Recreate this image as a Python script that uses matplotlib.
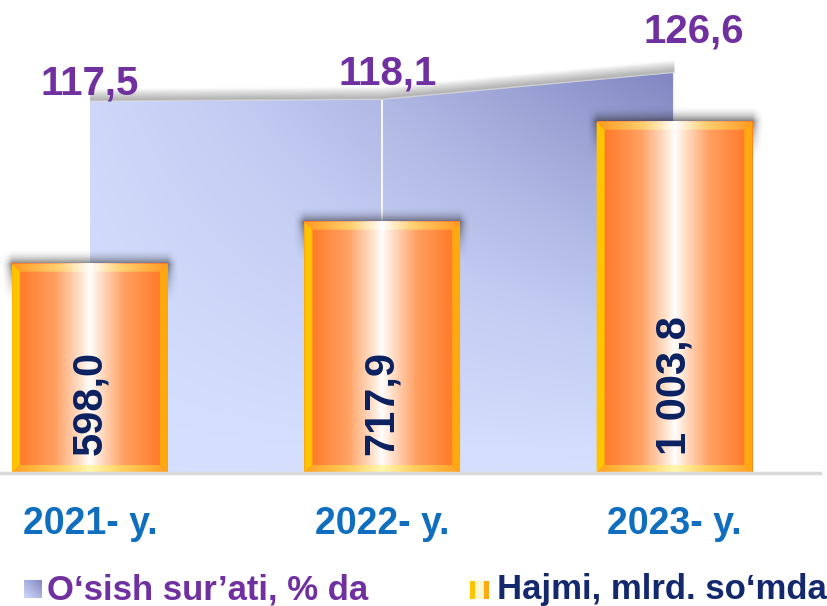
import numpy as np
import matplotlib
matplotlib.use("Agg")
import matplotlib.pyplot as plt
from matplotlib.colors import LinearSegmentedColormap
from matplotlib.patches import Polygon, Rectangle
from matplotlib.transforms import offset_copy

plt.rcParams["font.family"] = ["Liberation Sans", "DejaVu Sans"]

# data
years = ["2021- y.", "2022- y.", "2023- y."]
volume = [598.0, 717.9, 1003.8]            # Hajmi, mlrd. so'mda
volume_labels = ["598,0", "717,9", "1 003,8"]
growth = [117.5, 118.1, 126.6]             # O'sish sur'ati, % da
growth_labels = ["117,5", "118,1", "126,6"]

W, H = 827, 606
fig = plt.figure(figsize=(W / 100, H / 100), dpi=100)
base_px = 473
ax = fig.add_axes([0, 1 - base_px / H, 1, base_px / H])   # area (behind)
axb = ax.twinx()                                           # bars (front)

xpos = np.arange(len(years))
xlim = (-0.308, 2.522)
px_x = (xlim[1] - xlim[0]) / W
bar_ylim = (0, base_px / 0.35)
area_ylim = (0, base_px / 3.16)
px_yb = bar_ylim[1] / base_px

# ---------- growth area with gradient ----------
coll = ax.fill_between(xpos, growth, 0, facecolor="none", edgecolor="none", zorder=2)
clip = coll.get_paths()[0]

# soft shadow over the top edge
for k in range(1, 13):
    tr = offset_copy(ax.transData, fig=fig, x=0, y=k * 1.0, units="dots")
    ax.plot(xpos, growth, color="#303030", alpha=0.16 * (13 - k) / 12, lw=2,
            transform=tr, zorder=1, solid_capstyle="butt")

u, v = np.meshgrid(np.linspace(0, 1, 300), np.linspace(0, 1, 300))
t = (0.15 + 0.85 * u) * v
area_cmap = LinearSegmentedColormap.from_list(
    "area", ["#D6E0FE", "#C2CBF2", "#A3AADA", "#7F85C0"])
im = ax.imshow(t, extent=[0, 2, 0, 128], origin="lower", aspect="auto",
               cmap=area_cmap, vmin=0, vmax=1, zorder=2, interpolation="bilinear")
im.set_clip_path(clip, ax.transData)
ax.vlines(xpos[1:], 0, growth[1:], color="white", lw=1.3, zorder=3)

for i, lab in enumerate(growth_labels):
    dx, dy = [(0, 7), (5, 15), (19, 30)][i]
    ax.annotate(lab, (xpos[i], growth[i]), xytext=(dx, dy), textcoords="offset pixels",
                ha="center", va="baseline", fontsize=29, fontweight="bold",
                color="#7030A0", annotation_clip=False, zorder=6)

# ---------- volume bars ----------
bw = 0.533
bev_x = 8 * px_x
bev_y = 8 * px_yb
body_cmap = LinearSegmentedColormap.from_list(
    "body", [(0, "#FF731E"), (0.28, "#FFA062"), (0.45, "#FFE6D4"), (0.5, "#FFFFFF"),
             (0.55, "#FFE6D4"), (0.72, "#FFA062"), (1, "#FF731E")])
top_cmap = LinearSegmentedColormap.from_list(
    "top", [(0, "#FF9A20"), (0.3, "#FFD070"), (0.5, "#FFFFFF"), (0.7, "#FFD070"), (1, "#FF9A20")])
bot_cmap = LinearSegmentedColormap.from_list(
    "bot", [(0, "#FFA020"), (0.3, "#FFD060"), (0.5, "#FFF8B0"), (0.7, "#FFD060"), (1, "#FFA020")])
grad = np.linspace(0, 1, 256).reshape(1, -1)

# blurred shadow sprite (in pixels around the bar top)
sx_pad, sy_up, sy_down = 12, 16, 40
bar_px = bw / px_x
gx = np.linspace(-sx_pad, bar_px + sx_pad, 200)
gy = np.linspace(-sy_down, sy_up, 120)
GX, GY = np.meshgrid(gx, gy)
dx_out = np.maximum(0, np.maximum(-GX, GX - bar_px))
fx = np.clip(1 - dx_out / sx_pad, 0, 1) ** 2
fy = np.where(GY > 0, np.clip(1 - GY / sy_up, 0, 1) ** 2,
              np.clip(1 + GY / sy_down, 0, 1) ** 1.5)
shadow = np.zeros(GX.shape + (4,))
shadow[..., :3] = 0.15
shadow[..., 3] = 0.6 * fx * fy

for i, h in enumerate(volume):
    x0, x1 = xpos[i] - bw / 2, xpos[i] + bw / 2
    axb.imshow(shadow, extent=[x0 - sx_pad * px_x, x1 + sx_pad * px_x,
                               h - sy_down * px_yb, h + sy_up * px_yb],
               origin="lower", aspect="auto", zorder=3, interpolation="bilinear")
    axb.imshow(grad, extent=[x0, x1, 0, h], aspect="auto", cmap=body_cmap,
               zorder=4, interpolation="bilinear")
    # bevels
    left = Polygon([(x0, 0), (x0 + bev_x, bev_y), (x0 + bev_x, h - bev_y), (x0, h)],
                   closed=True, facecolor="#FFC400", edgecolor="none", zorder=5)
    right = Polygon([(x1, 0), (x1 - bev_x, bev_y), (x1 - bev_x, h - bev_y), (x1, h)],
                    closed=True, facecolor="#FFA810", edgecolor="none", zorder=5)
    axb.add_patch(left)
    axb.add_patch(right)
    top = Polygon([(x0, h), (x0 + bev_x, h - bev_y), (x1 - bev_x, h - bev_y), (x1, h)],
                  closed=True, facecolor="none", edgecolor="none")
    bot = Polygon([(x0, 0), (x0 + bev_x, bev_y), (x1 - bev_x, bev_y), (x1, 0)],
                  closed=True, facecolor="none", edgecolor="none")
    axb.add_patch(top)
    axb.add_patch(bot)
    it = axb.imshow(grad, extent=[x0, x1, h - bev_y, h], aspect="auto", cmap=top_cmap,
                    zorder=5, interpolation="bilinear")
    it.set_clip_path(top)
    ib = axb.imshow(grad, extent=[x0, x1, 0, bev_y], aspect="auto", cmap=bot_cmap,
                    zorder=5, interpolation="bilinear")
    ib.set_clip_path(bot)
    axb.annotate(volume_labels[i], (xpos[i], 0), xytext=(0, 18), textcoords="offset pixels",
                 rotation=90, ha="center", va="bottom", fontsize=30, fontweight="bold",
                 color="#0B2160", zorder=7)

axb.axhline(0, xmin=0, xmax=820 / W, color="#D9D9D9", lw=2.5, zorder=8, clip_on=False)

for a in (ax, axb):
    a.set_xlim(*xlim)
    a.set_yticks([])
    for s in a.spines.values():
        s.set_visible(False)
ax.set_ylim(*area_ylim)
axb.set_ylim(*bar_ylim)

ax.set_xticks(xpos, years, fontsize=27, fontweight="bold", color="#0F6EBE")
ax.tick_params(axis="x", length=0, pad=24)

# ---------- legend ----------
ly = 1 - 590 / H
sq = np.linspace(0, 1, 64)
leg_ax = fig.add_axes([24 / W, 1 - 598 / H, 18 / W, 18 / H])
leg_ax.imshow(np.add.outer(sq[::-1], sq) / 2, cmap=area_cmap, aspect="auto",
              vmin=-0.2, vmax=1.0)
leg_ax.axis("off")
fig.text(47 / W, ly, "O‘sish sur’ati, % da", fontsize=25, fontweight="bold",
         color="#7030A0", va="center", ha="left")
fig.patches.append(Rectangle((470 / W, 1 - 599 / H), 19 / W, 18 / H,
                             transform=fig.transFigure, facecolor="#FFF6D0",
                             edgecolor="none"))
fig.patches.append(Rectangle((470 / W, 1 - 599 / H), 5 / W, 18 / H,
                             transform=fig.transFigure, facecolor="#FFC400",
                             edgecolor="none"))
fig.patches.append(Rectangle((484 / W, 1 - 599 / H), 5 / W, 18 / H,
                             transform=fig.transFigure, facecolor="#FFA810",
                             edgecolor="none"))
fig.text(497 / W, ly, "Hajmi, mlrd. so‘mda", fontsize=25, fontweight="bold",
         color="#14286E", va="center", ha="left")

fig.savefig("out.png", dpi=100, facecolor="white")
